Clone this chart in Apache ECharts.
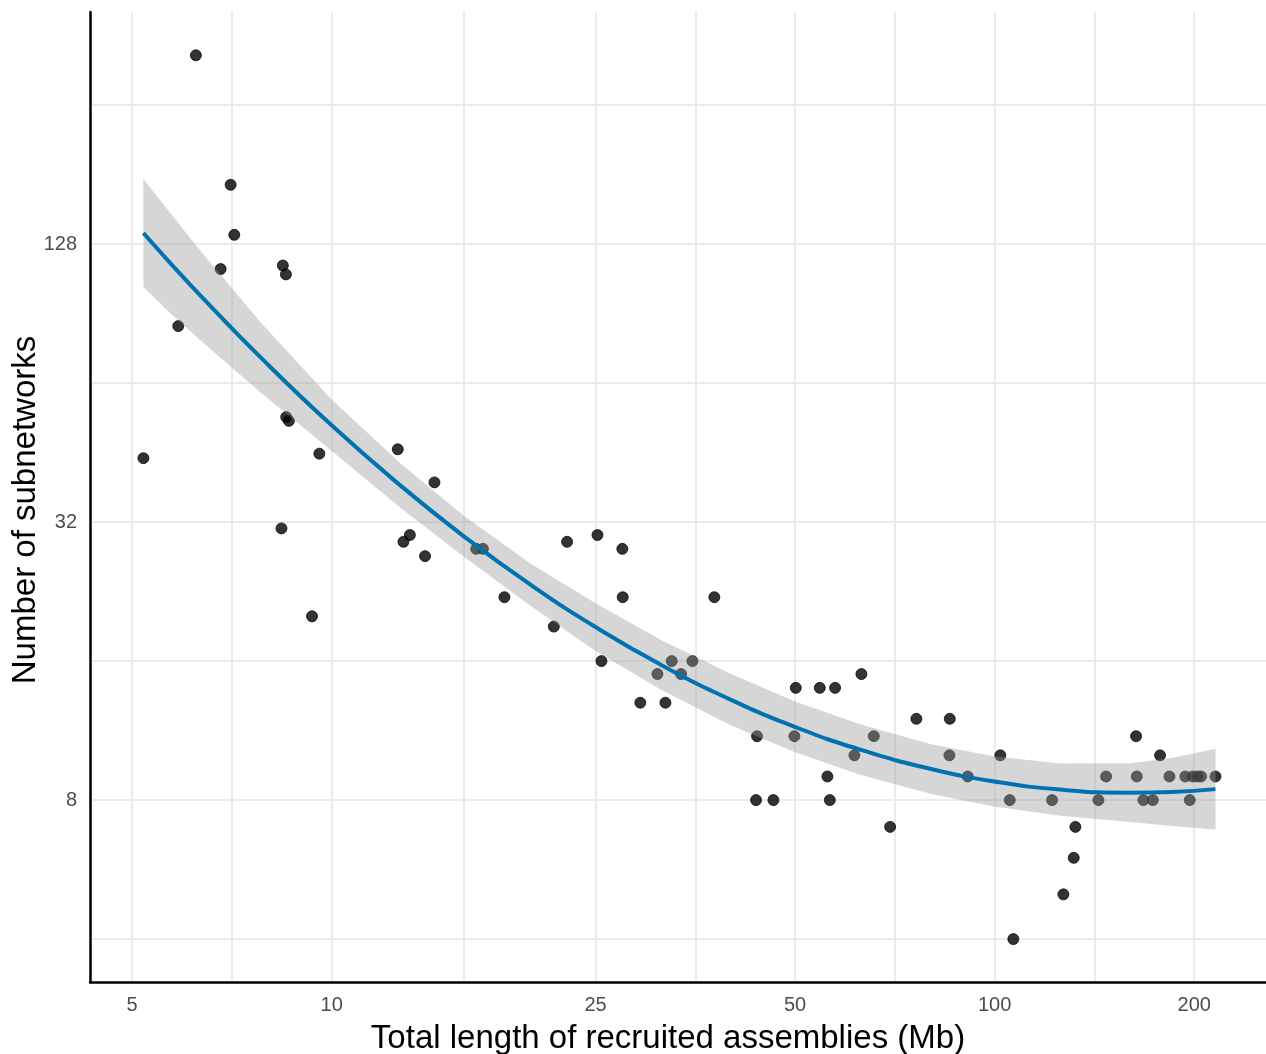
<!DOCTYPE html>
<html>
<head>
<meta charset="utf-8">
<script src="https://cdn.jsdelivr.net/npm/echarts@6/dist/echarts.min.js"></script>
<style>
html,body{margin:0;padding:0;background:#ffffff;}
#chart{width:1266px;height:1054px;}
</style>
</head>
<body>
<div id="chart"></div>
<script>
// Observed points: total length of recruited assemblies (Mb) vs number of subnetworks
const lengthMb = [5.20, 5.87, 6.24, 6.80, 7.04, 7.13, 8.40, 8.44, 8.53, 8.54,
  8.62, 9.34, 9.58, 12.58, 12.83, 13.12, 13.83, 14.29, 16.52, 16.91,
  18.22, 21.63, 22.65, 25.17, 25.52, 27.44, 27.48, 29.21, 31.0, 31.87,
  32.58, 33.65, 35.0, 37.77, 43.81, 43.66, 46.37, 50.12, 49.88, 54.48,
  55.94, 56.41, 57.45, 61.43, 62.95, 65.72, 69.55, 76.19, 85.57, 85.45,
  91.08, 101.99, 105.38, 106.7, 122.07, 126.96, 131.6, 132.36, 143.39, 147.27,
  163.43, 163.8, 167.6, 173.2, 177.6, 183.5, 193.9, 196.9, 199.0, 202.2, 204.8, 215.3];
const subnetworks = [44, 85, 328, 113, 172, 134, 31, 115, 110, 54,
  53, 20, 45, 46, 29, 30, 27, 39, 28, 28,
  22, 19, 29, 30, 16, 28, 22, 13, 15, 13,
  16, 15, 16, 22, 11, 8, 8, 14, 11, 14,
  9, 8, 14, 10, 15, 11, 7, 12, 12, 10,
  9, 10, 8, 4, 8, 5, 6, 7, 8, 9,
  11, 9, 8, 8, 10, 9, 9, 8, 9, 9, 9, 9];

// Smoothed fit and its confidence band
const fitX     = [5.20, 5.70, 6.33, 7.80, 9.98, 12.68, 15.79, 19.92, 24.97, 31.29, 39.89, 50, 62.66, 79.9, 99.8, 125.5, 160.1, 185, 215.3];
const fitY     = [135.2, 116.7, 99.2, 72.9, 51.96, 38.45, 29.88, 23.45, 18.98, 15.74, 13.22, 11.52, 10.29, 9.35, 8.78, 8.43, 8.30, 8.33, 8.45];
const fitUpper = [177.0, 149.8, 124.1, 86.9, 59.07, 42.96, 33.09, 26.06, 21.38, 17.81, 15.03, 13.08, 11.67, 10.58, 9.95, 9.60, 9.61, 9.87, 10.33];
const fitLower = [103.3, 90.9, 79.3, 61.2, 45.70, 34.41, 26.98, 21.10, 16.85, 13.91, 11.63, 10.15, 9.08, 8.26, 7.75, 7.40, 7.17, 7.03, 6.91];

// Axis ticks
const xMajorTicks = [5, 10, 25, 50, 100, 200];
const xMinorTicks = [7.07, 15.81, 35.36, 70.71, 141.42];
const yMajorTicks = [8, 32, 128];
const yMinorTicks = [4, 16, 64, 256];
const xRange = [4.32, 256.6];
const yRange = [3.23, 407];

const xTitle = 'Total length of recruited assemblies (Mb)';
const yTitle = 'Number of subnetworks';

const FONT = '"Liberation Sans", Arial, Helvetica, sans-serif';
const gridColor = '#ebebeb';

const chart = echarts.init(document.getElementById('chart'), null, {renderer: 'canvas'});

const scatterData = lengthMb.map((x, i) => [x, subnetworks[i]]);
const lineData = fitX.map((x, i) => [x, fitY[i]]);
const bandData = fitX.map((x, i) => [x, fitLower[i], fitUpper[i]]);

const option = {
  animation: false,
  backgroundColor: '#ffffff',
  grid: {left: 90, right: 0, top: 12, bottom: 72, containLabel: false, outerBoundsMode: 'none'},
  xAxis: [
    {
      type: 'log', logBase: 10, min: xRange[0], max: xRange[1],
      position: 'bottom',
      name: xTitle, nameLocation: 'middle', nameGap: 40, nameMoveOverlap: false,
      nameTextStyle: {fontFamily: FONT, fontSize: 33, color: '#000000', padding: [0, 20, 0, 0]},
      axisLine: {show: true, lineStyle: {color: '#000000', width: 2.5}},
      axisTick: {show: false, customValues: xMajorTicks},
      axisLabel: {show: true, customValues: xMajorTicks, margin: 13,
        fontFamily: FONT, fontSize: 20, color: '#4d4d4d',
        formatter: v => String(Math.round(v))},
      splitLine: {show: true, lineStyle: {color: gridColor, width: 2}},
      minorTick: {show: false}, minorSplitLine: {show: false}
    },
    {
      type: 'log', logBase: 10, min: xRange[0], max: xRange[1],
      position: 'top',
      axisLine: {show: false},
      axisTick: {show: false, customValues: xMinorTicks},
      axisLabel: {show: false},
      splitLine: {show: true, lineStyle: {color: gridColor, width: 2}}
    }
  ],
  yAxis: [
    {
      type: 'log', logBase: 2, min: yRange[0], max: yRange[1],
      position: 'left',
      name: yTitle, nameLocation: 'middle', nameGap: 48, nameRotate: 90, nameMoveOverlap: false,
      nameTextStyle: {fontFamily: FONT, fontSize: 33, color: '#000000', padding: [0, 26, 0, 0]},
      axisLine: {show: true, lineStyle: {color: '#000000', width: 2.5}},
      axisTick: {show: false, customValues: yMajorTicks},
      axisLabel: {show: true, customValues: yMajorTicks, margin: 13,
        fontFamily: FONT, fontSize: 20, color: '#4d4d4d',
        formatter: v => String(Math.round(v))},
      splitLine: {show: true, lineStyle: {color: gridColor, width: 2}},
      minorTick: {show: false}, minorSplitLine: {show: false}
    },
    {
      type: 'log', logBase: 2, min: yRange[0], max: yRange[1],
      position: 'right',
      axisLine: {show: false},
      axisTick: {show: false, customValues: yMinorTicks},
      axisLabel: {show: false},
      splitLine: {show: true, lineStyle: {color: gridColor, width: 2}}
    }
  ],
  series: [
    {
      type: 'scatter', xAxisIndex: 0, yAxisIndex: 0, z: 2,
      data: scatterData,
      symbol: 'circle', symbolSize: 11,
      itemStyle: {color: 'rgba(0,0,0,0.8)', borderColor: 'rgba(0,0,0,0.9)', borderWidth: 0.8, opacity: 1},
      emphasis: {disabled: true}
    },
    {
      type: 'custom', xAxisIndex: 0, yAxisIndex: 0, z: 3,
      data: bandData,
      dimensions: ['x', 'lo', 'hi'],
      encode: {x: 0, y: [1, 2]},
      renderItem: function (params, api) {
        if (params.dataIndex !== 0) return null;
        const n = bandData.length;
        const top = [], bottom = [];
        for (let i = 0; i < n; i++) {
          top.push(api.coord([api.value(0, i), api.value(2, i)]));
          bottom.push(api.coord([api.value(0, i), api.value(1, i)]));
        }
        return {
          type: 'polygon',
          shape: {points: top.concat(bottom.reverse())},
          style: {fill: 'rgba(153,153,153,0.4)', stroke: null}
        };
      },
      silent: true
    },
    {
      type: 'line', xAxisIndex: 0, yAxisIndex: 0, z: 4,
      data: lineData,
      showSymbol: false, symbol: 'none', smooth: true,
      lineStyle: {color: '#0072B2', width: 4},
      silent: true
    }
  ]
};
chart.setOption(option);
</script>
</body>
</html>
